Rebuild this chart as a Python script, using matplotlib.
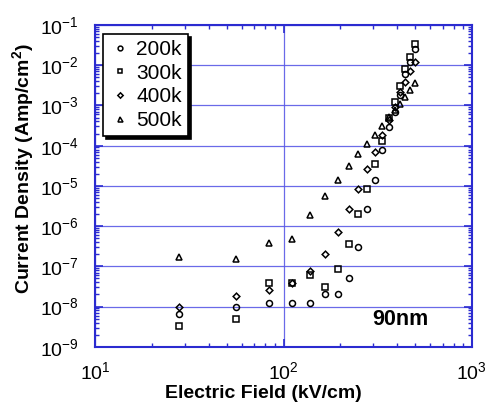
import matplotlib
matplotlib.use('Agg')
import matplotlib.pyplot as plt
from matplotlib.ticker import LogLocator, LogFormatterMathtext, NullFormatter

plt.rcParams['font.family'] = ['Liberation Sans', 'DejaVu Sans']
plt.rcParams['mathtext.fontset'] = 'custom'
plt.rcParams['mathtext.rm'] = 'Liberation Sans'
plt.rcParams['mathtext.bf'] = 'Liberation Sans:bold'

# electric field (kV/cm)
field = [27.8, 55.6, 83.3, 111, 139, 167, 194, 222, 250,
         278, 306, 333, 361, 389, 417, 444, 472, 500]

# current density (A/cm^2) for each stress temperature
j_200k = [6.5e-9, 9.8e-9, 1.2e-8, 1.2e-8, 1.2e-8, 2.0e-8, 2.0e-8, 5.0e-8, 3.1e-7,
          2.7e-6, 1.4e-5, 7.9e-5, 2.9e-4, 7.0e-4, 1.8e-3, 6.0e-3, 1.2e-2, 2.5e-2]
j_300k = [3.3e-9, 5.0e-9, 3.8e-8, 3.8e-8, 6.0e-8, 3.0e-8, 8.5e-8, 3.5e-7, 2.0e-6,
          8.5e-6, 3.6e-5, 1.3e-4, 4.8e-4, 1.2e-3, 3.0e-3, 8.0e-3, 1.6e-2, 3.4e-2]
j_400k = [1.0e-8, 1.85e-8, 2.6e-8, 3.8e-8, 7.8e-8, 2.0e-7, 7.0e-7, 2.6e-6, 8.3e-6,
          2.6e-5, 7.1e-5, 1.8e-4, 4.3e-4, 9.0e-4, 2.2e-3, 3.9e-3, 7.2e-3, 1.2e-2]
j_500k = [1.75e-7, 1.5e-7, 3.8e-7, 4.7e-7, 1.9e-6, 5.6e-6, 1.4e-5, 3.2e-5, 6.3e-5,
          1.1e-4, 1.8e-4, 3.1e-4, 5.1e-4, 7.5e-4, 1.1e-3, 1.6e-3, 2.4e-3, 3.7e-3]

labels = ['200k', '300k', '400k', '500k']
markers = ['o', 's', 'D', '^']
msizes = [4.3, 4.3, 3.4, 4.5]
blue = '#2b2bd0'

fig = plt.figure(figsize=(4.88, 4.09), dpi=100)
ax = fig.add_axes([0.195, 0.152, 0.772, 0.787])

for ys, lab, m, ms in zip([j_200k, j_300k, j_400k, j_500k], labels, markers, msizes):
    ax.plot(field, ys, linestyle='none', marker=m, markersize=ms,
            markerfacecolor='none', markeredgecolor='black',
            markeredgewidth=1.1, label=lab)

ax.set_xscale('log')
ax.set_yscale('log')
ax.set_xlim(10, 1000)
ax.set_ylim(1e-9, 1e-1)

ax.yaxis.set_major_locator(LogLocator(base=10, numticks=20))
ax.yaxis.set_major_formatter(LogFormatterMathtext())
ax.yaxis.set_minor_locator(LogLocator(base=10, subs=range(2, 10), numticks=20))
ax.yaxis.set_minor_formatter(NullFormatter())

ax.grid(True, which='major', color='#5a5ae6', linewidth=0.9, alpha=0.9)

for s in ax.spines.values():
    s.set_color(blue)
    s.set_linewidth(1.5)
ax.tick_params(which='both', direction='in', top=True, right=True,
               color=blue, labelsize=14)
ax.tick_params(which='major', length=6, width=1.2)
ax.tick_params(which='minor', length=3, width=1.0)
ax.tick_params(axis='y', pad=12)
ax.tick_params(axis='x', pad=10)

ax.set_xlabel('Electric Field (kV/cm)', fontsize=14, fontweight='bold',
              labelpad=2, x=0.446)
ax.set_ylabel('Current Density (Amp/cm$^\\mathbf{2}$)', fontsize=14,
              fontweight='bold', labelpad=2, y=0.553)

leg = ax.legend(loc='upper left', bbox_to_anchor=(0.01, 0.985), fontsize=15,
                frameon=True, fancybox=False, shadow={'color': 'black', 'alpha': 1},
                handletextpad=0.3, handlelength=1.0, borderpad=0.3,
                labelspacing=0.22, borderaxespad=0.2, markerscale=0.8)
leg.get_frame().set_edgecolor('black')
leg.get_frame().set_linewidth(1.2)

ax.text(0.81, 0.084, '90nm', transform=ax.transAxes, fontsize=15.5,
        fontweight='bold', ha='center', va='center')

fig.savefig('out.png', dpi=100)
